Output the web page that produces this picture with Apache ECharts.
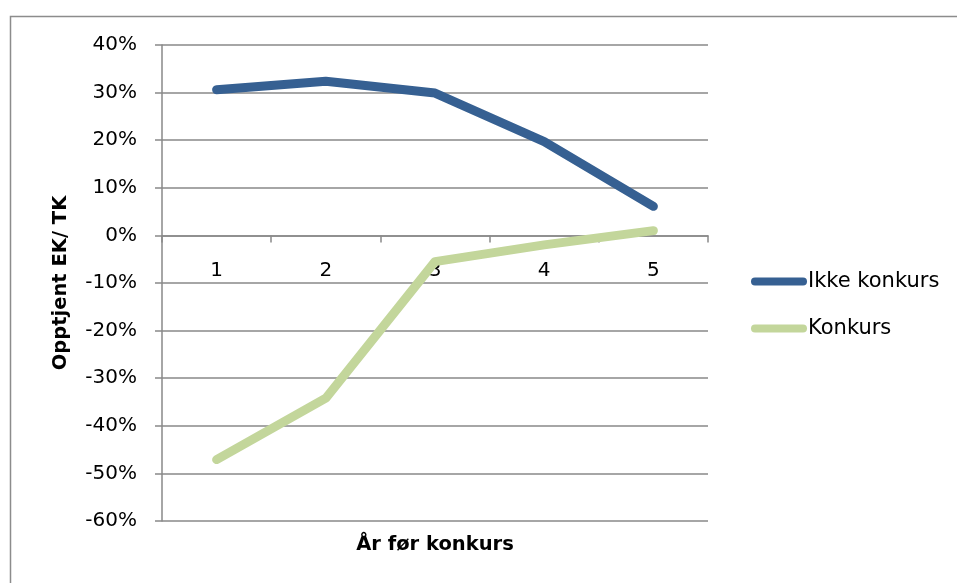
<!DOCTYPE html>
<html>
<head>
<meta charset="utf-8">
<script src="https://cdn.jsdelivr.net/npm/echarts@6/dist/echarts.min.js"></script>
<style>
html,body{margin:0;padding:0;background:#fff;}
#chart{width:957px;height:583px;}
</style>
</head>
<body>
<div id="chart"></div>
<script>
const categories = ['1', '2', '3', '4', '5'];
const ikkeKonkurs = [30.6, 32.4, 29.9, 19.7, 6.1];
const konkurs = [-47.1, -34.2, -5.5, -2.0, 1.0];
const seriesNames = ['Ikke konkurs', 'Konkurs'];
const yAxisTitle = 'Opptjent EK/ TK';
const xAxisTitle = 'År før konkurs';
const yMin = -60, yMax = 40;

const FONT = 'DejaVu Sans';
const GRID = '#898989';
const legendIcon = 'path://M4,0 H52 A4,4 0 0 1 52,8 H4 A4,4 0 0 1 4,0 Z';

const gridTop = 45, gridBottom = 62, H = 583;
const plotH = H - gridTop - gridBottom;
// move the category axis up to the zero line
const zeroOffset = -plotH * (0 - yMin) / (yMax - yMin);

const chart = echarts.init(document.getElementById('chart'), null, {renderer: 'canvas'});
chart.setOption({
  animation: false,
  backgroundColor: '#fff',
  textStyle: {fontFamily: FONT},
  grid: {left: 162, top: gridTop, right: 249, bottom: gridBottom, containLabel: false},
  legend: {
    orient: 'vertical',
    left: 746,
    top: 266,
    itemWidth: 56,
    itemHeight: 9,
    itemGap: 26,
    icon: legendIcon,
    textStyle: {fontFamily: FONT, fontSize: 21, color: '#000', lineHeight: 21, padding: [0, 0, 0, -4]},
    data: seriesNames
  },
  xAxis: {
    type: 'category',
    data: categories,
    boundaryGap: true,
    offset: zeroOffset,
    axisLine: {onZero: false, lineStyle: {color: GRID, width: 1.5}},
    axisTick: {show: true, length: 7, lineStyle: {color: GRID, width: 1.5}},
    axisLabel: {fontFamily: FONT, fontSize: 20, color: '#000', margin: 25},
    splitLine: {show: false}
  },
  yAxis: {
    type: 'value',
    min: yMin,
    max: yMax,
    interval: 10,
    name: yAxisTitle,
    nameLocation: 'middle',
    nameRotate: 90,
    nameGap: 91,
    nameTextStyle: {fontFamily: FONT, fontSize: 19.5, fontWeight: 'bold', color: '#000'},
    axisLine: {show: true, lineStyle: {color: GRID, width: 1.5}},
    axisTick: {show: true, length: 7, lineStyle: {color: GRID, width: 1.5}},
    axisLabel: {fontFamily: FONT, fontSize: 20, color: '#000', margin: 25, formatter: '{value}%'},
    splitLine: {show: true, lineStyle: {color: GRID, width: 1.5}}
  },
  graphic: [
    {type: 'rect', shape: {x: 10.5, y: 16.5, width: 1200, height: 1000}, style: {fill: 'none', stroke: '#8c8c8c', lineWidth: 1.5}, silent: true},
    {type: 'text', style: {text: xAxisTitle, fontFamily: FONT, fontSize: 19.5, fontWeight: 'bold', fill: '#000', x: 435, y: 545, textAlign: 'center', textVerticalAlign: 'middle'}}
  ],
  series: [
    {
      name: seriesNames[0], type: 'line', data: ikkeKonkurs, symbol: 'none',
      color: '#366092',
      lineStyle: {width: 9, color: '#366092', cap: 'round', join: 'round'}
    },
    {
      name: seriesNames[1], type: 'line', data: konkurs, symbol: 'none',
      color: '#C3D69B',
      lineStyle: {width: 9, color: '#C3D69B', cap: 'round', join: 'round'}
    }
  ]
});
</script>
</body>
</html>
